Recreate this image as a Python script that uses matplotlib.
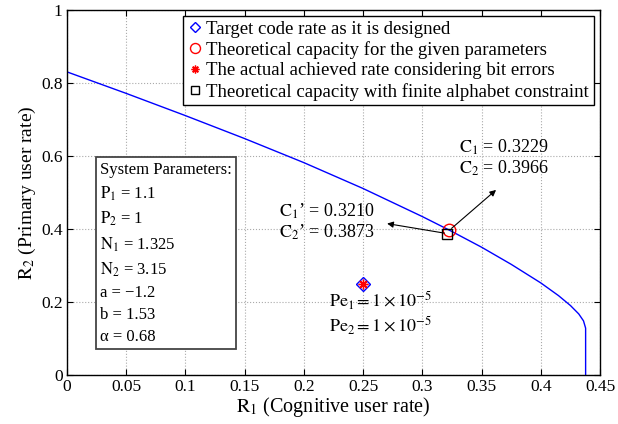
import matplotlib
matplotlib.use('Agg')
import matplotlib.pyplot as plt

plt.rcParams['font.family'] = ['Liberation Serif', 'DejaVu Serif']
plt.rcParams['mathtext.fontset'] = 'stix'

# capacity region boundary
r1_curve = [0.0, 0.05, 0.10, 0.15, 0.20, 0.25, 0.30, 0.3229, 0.35, 0.375, 0.40,
            0.415, 0.425, 0.432, 0.436, 0.4378, 0.4378]
r2_curve = [0.831, 0.772, 0.711, 0.648, 0.582, 0.511, 0.434, 0.3966, 0.350, 0.303, 0.252,
            0.217, 0.190, 0.167, 0.148, 0.128, 0.0]

target_pt = (0.25, 0.25)
capacity_pt = (0.3229, 0.3966)
achieved_pt = (0.25, 0.25)
finite_pt = (0.3210, 0.3873)

x_ticks = [0, 0.05, 0.1, 0.15, 0.2, 0.25, 0.3, 0.35, 0.4, 0.45]
x_labels = ['0', '0.05', '0.1', '0.15', '0.2', '0.25', '0.3', '0.35', '0.4', '0.45']
y_ticks = [0, 0.2, 0.4, 0.6, 0.8, 1.0]
y_labels = ['0', '0.2', '0.4', '0.6', '0.8', '1']

params_text = ("System Parameters:\n$\\mathrm{P_1}$ = 1.1\n$\\mathrm{P_2}$ = 1\n"
               "$\\mathrm{N_1}$ = 1.325\n$\\mathrm{N_2}$ = 3.15\na = \u22121.2\nb = 1.53\n\u03b1 = 0.68")

fig = plt.figure(figsize=(6.18, 4.24), dpi=100)
ax = fig.add_axes([0.108, 0.116, 0.863, 0.86])

ax.plot(r1_curve, r2_curve, color='blue', lw=1.0)

h1, = ax.plot(*target_pt, 'D', mfc='none', mec='blue', ms=7, mew=1.0, ls='none')
h2, = ax.plot(*capacity_pt, 'o', mfc='none', mec='red', ms=9, mew=1.0, ls='none')
h3, = ax.plot(*achieved_pt, marker=(8, 2, 0), color='red', ms=7, mew=1.0, ls='none')
h4, = ax.plot(*finite_pt, 's', mfc='none', mec='black', ms=7, mew=1.0, ls='none')

leg = ax.legend([h1, h2, h3, h4],
                ['Target code rate as it is designed',
                 'Theoretical capacity for the given parameters',
                 'The actual achieved rate considering bit errors',
                 'Theoretical capacity with finite alphabet constraint'],
                loc='upper right', bbox_to_anchor=(0.995, 0.995), fontsize=13.5,
                handlelength=0.8, handletextpad=0.2, borderpad=0.25, labelspacing=0.18,
                markerscale=0.8, fancybox=False, framealpha=1, edgecolor='black',
                borderaxespad=0.2)
leg.get_frame().set_linewidth(1.0)

ax.annotate('', xy=(0.364, 0.512), xytext=capacity_pt,
            arrowprops=dict(arrowstyle='-|>', color='black', lw=0.8, mutation_scale=9))
ax.text(0.331, 0.65, '$\\mathrm{C_1}$ = 0.3229\n$\\mathrm{C_2}$ = 0.3966', fontsize=13,
        va='top', ha='left', linespacing=1.1)

ax.annotate('', xy=(0.268, 0.416), xytext=finite_pt,
            arrowprops=dict(arrowstyle='-|>', color='black', lw=0.8, mutation_scale=9))
ax.text(0.179, 0.475, "$\\mathrm{C_1}$\u2019 = 0.3210\n$\\mathrm{C_2}$\u2019 = 0.3873", fontsize=13,
        va='top', ha='left', linespacing=1.1)

ax.text(0.2215, 0.235, '$\\mathrm{Pe_1} = 1\\times10^{-5}$\n$\\mathrm{Pe_2} = 1\\times10^{-5}$',
        fontsize=13, va='top', ha='left', linespacing=1.2)

ax.text(0.028, 0.585, params_text, fontsize=12, va='top', ha='left', linespacing=1.5,
        bbox=dict(boxstyle='square,pad=0.25', fc='white', ec='#444444', lw=1.3))

ax.set_xlim(0, 0.45)
ax.set_ylim(0, 1)
ax.set_xticks(x_ticks)
ax.set_xticklabels(x_labels)
ax.set_yticks(y_ticks)
ax.set_yticklabels(y_labels)
ax.tick_params(direction='in', labelsize=12.5, length=4, top=True, right=True, pad=3)
ax.grid(True, ls=':', color='#aaaaaa', lw=0.8)
for s in ax.spines.values():
    s.set_linewidth(1.0)

ax.set_xlabel('$\\mathrm{R_1}$ (Cognitive user rate)', fontsize=14.5, labelpad=0)
ax.set_ylabel('$\\mathrm{R_2}$ (Primary user rate)', fontsize=14, labelpad=2)

fig.savefig('out.png', dpi=100)
